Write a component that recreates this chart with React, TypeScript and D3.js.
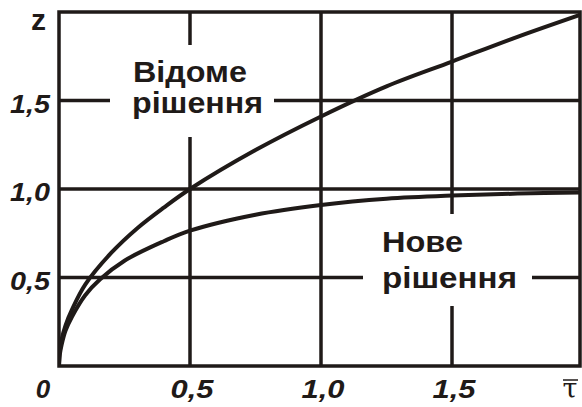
import React from "react";
import * as d3 from "d3";

const xTicks = [0.5, 1.0, 1.5];
const yTicks = [0.5, 1.0, 1.5];
const xTickLabels = ["0,5", "1,0", "1,5"];
const yTickLabels = ["0,5", "1,0", "1,5"];

// "Відоме рішення" (known solution)
const knownTau = [0, 0.003, 0.01, 0.025, 0.05, 0.1, 0.2, 0.3, 0.4, 0.5, 0.75, 1.0, 1.25, 1.5, 1.75, 2.0];
const knownZ = [0, 0.08, 0.15, 0.23, 0.32, 0.46, 0.64, 0.78, 0.895, 1.0, 1.22, 1.41, 1.58, 1.72, 1.86, 1.99];

// "Нове рішення" (new solution)
const newTau = [0, 0.003, 0.01, 0.025, 0.05, 0.1, 0.157, 0.25, 0.4, 0.5, 0.75, 1.0, 1.25, 1.5, 1.75, 2.0];
const newZ = [0, 0.065, 0.12, 0.2, 0.28, 0.4, 0.49, 0.595, 0.705, 0.765, 0.855, 0.91, 0.945, 0.963, 0.974, 0.98];

const W = 582;
const H = 407;
const INK = "#1f1a18";

export default function App() {
  const x = d3.scaleLinear().domain([0, 2]).range([59, 583]);
  const y = d3.scaleLinear().domain([0, 2]).range([366, 12]);
  const right = 580;

  const line = d3
    .line<[number, number]>()
    .x((d) => x(d[0]))
    .y((d) => y(d[1]))
    .curve(d3.curveCatmullRom.alpha(0.5));

  const known = line(knownTau.map((t, i) => [t, knownZ[i]] as [number, number])) || "";
  const nw = line(newTau.map((t, i) => [t, newZ[i]] as [number, number])) || "";

  const tickFont = {
    fontFamily: "'Liberation Sans', Arial, sans-serif",
    fontWeight: 700,
    fontStyle: "italic" as const,
    fontSize: 26,
    fill: INK,
  };
  const labelFont = {
    fontFamily: "'Liberation Sans', Arial, sans-serif",
    fontWeight: 700,
    fontSize: 29,
    fill: INK,
    lengthAdjust: "spacingAndGlyphs",
  };

  return (
    <svg width={W} height={H} style={{ position: "absolute", left: 0, top: 0, background: "#fff" }}>
      <rect x={0} y={0} width={W} height={H} fill="#fff" />
      <defs>
        <clipPath id="plotclip">
          <rect x={x(0)} y={y(2)} width={right - x(0)} height={y(0) - y(2)} />
        </clipPath>
      </defs>
      <g clipPath="url(#plotclip)">
        {xTicks.map((t) => (
          <line key={"vx" + t} x1={x(t)} x2={x(t)} y1={y(0)} y2={y(2)} stroke={INK} strokeWidth={3.5} />
        ))}
        {yTicks.map((t) => (
          <line key={"hy" + t} x1={x(0)} x2={right} y1={y(t)} y2={y(t)} stroke={INK} strokeWidth={3.5} />
        ))}
        {/* label backgrounds breaking the grid */}
        <rect x={110} y={45} width={164} height={92} fill="#fff" />
        <rect x={363} y={214} width={169} height={92} fill="#fff" />
        <path d={known} fill="none" stroke={INK} strokeWidth={4} />
        <path d={nw} fill="none" stroke={INK} strokeWidth={4} />
      </g>
      <rect
        x={x(0)}
        y={y(2)}
        width={right - x(0)}
        height={y(0) - y(2)}
        fill="none"
        stroke={INK}
        strokeWidth={3.5}
      />
      {yTicks.map((t, i) => (
        <text key={"yl" + t} x={50} y={y(t) + 12} textAnchor="end" textLength={40} lengthAdjust="spacingAndGlyphs" {...tickFont}>
          {yTickLabels[i]}
        </text>
      ))}
      {xTicks.map((t, i) => (
        <text key={"xl" + t} x={x(t) + 2} y={398} textAnchor="middle" textLength={43} lengthAdjust="spacingAndGlyphs" {...tickFont}>
          {xTickLabels[i]}
        </text>
      ))}
      <text x={43} y={398} textAnchor="middle" {...tickFont}>0</text>
      <text x={31} y={30} {...labelFont} fontSize={30}>z</text>
      <text x={570} y={398} textAnchor="middle" fontFamily="'DejaVu Serif', 'Liberation Serif', serif" fontSize={27} fill={INK}>
        τ
      </text>
      <line x1={563} x2={578} y1={380} y2={380} stroke={INK} strokeWidth={1.5} />

      <text x={133} y={82} textLength={114} {...labelFont}>Відоме</text>
      <text x={132} y={113} textLength={131} {...labelFont}>рішення</text>
      <text x={382} y={252} textLength={81} {...labelFont}>Нове</text>
      <text x={382} y={288} textLength={135} {...labelFont}>рішення</text>
    </svg>
  );
}
